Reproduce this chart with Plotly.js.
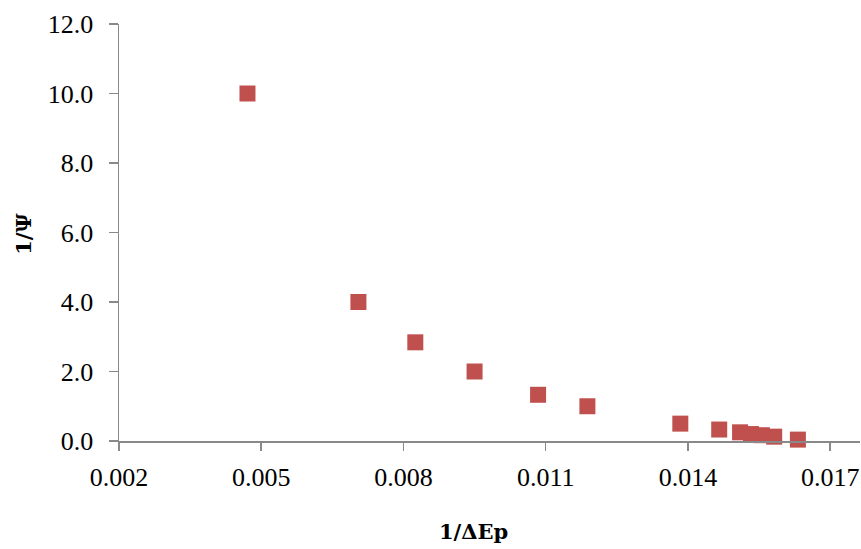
<!DOCTYPE html>
<html>
<head>
<meta charset="utf-8">
<script src="https://cdn.plot.ly/plotly-3.0.1.min.js"></script>
<style>html,body{margin:0;padding:0;background:#fff;}#chart{width:861px;height:549px;}</style>
</head>
<body>
<div id="chart"></div>
<script>
const invDeltaEp = [0.00471, 0.00705, 0.00825, 0.0095, 0.01084, 0.01188, 0.01384, 0.01466, 0.0151, 0.01533, 0.01556, 0.01582, 0.01632];
const invPsi = [10.0, 4.0, 2.84, 2.0, 1.33, 1.0, 0.5, 0.33, 0.25, 0.2, 0.167, 0.125, 0.04];
const xTickVals = [0.002, 0.005, 0.008, 0.011, 0.014, 0.017];
const yTickVals = [0, 2, 4, 6, 8, 10, 12];
const xTitle = '1/ΔEp';
const yTitle = '1/Ψ';

const tickFam = '"Liberation Serif", "Times New Roman", serif';
const titleFam = '"DejaVu Serif", serif';
const trace = {
  x: invDeltaEp,
  y: invPsi,
  type: 'scatter',
  mode: 'markers',
  marker: {symbol: 'square', size: 16, color: '#C0504D', line: {width: 0}},
  cliponaxis: false,
  showlegend: false
};
const layout = {
  width: 861, height: 549,
  margin: {l: 119, r: 1, t: 24, b: 108},
  paper_bgcolor: '#fff', plot_bgcolor: '#fff',
  font: {family: tickFam, size: 26, color: '#000'},
  xaxis: {
    range: [0.002, 0.01763],
    tickvals: xTickVals,
    tickformat: '.3f',
    ticks: 'outside', ticklen: 8, tickwidth: 1.5, tickcolor: '#898989',
    ticklabelstandoff: 4,
    showline: true, linecolor: '#898989', linewidth: 1.5,
    showgrid: false, zeroline: false,
    tickfont: {family: tickFam, size: 26, color: '#000'}
  },
  yaxis: {
    range: [0, 12],
    tickvals: yTickVals,
    tickformat: '.1f',
    ticks: 'outside', ticklen: 9, tickwidth: 1.5, tickcolor: '#898989',
    ticklabelstandoff: 10,
    showline: true, linecolor: '#898989', linewidth: 1.5,
    showgrid: false, zeroline: false,
    tickfont: {family: tickFam, size: 26, color: '#000'}
  },
  annotations: [
    {text: '<b>' + xTitle + '</b>', xref: 'paper', yref: 'paper', x: 0.478, y: -0.218,
     xanchor: 'center', yanchor: 'middle', showarrow: false,
     font: {family: titleFam, size: 21, color: '#000'}},
    {text: '<b>' + yTitle + '</b>', xref: 'paper', yref: 'paper', x: -0.130, y: 0.496,
     xanchor: 'center', yanchor: 'middle', showarrow: false, textangle: -90,
     font: {family: titleFam, size: 21, color: '#000'}}
  ]
};
Plotly.newPlot('chart', [trace], layout, {displayModeBar: false, staticPlot: true});
</script>
</body>
</html>
